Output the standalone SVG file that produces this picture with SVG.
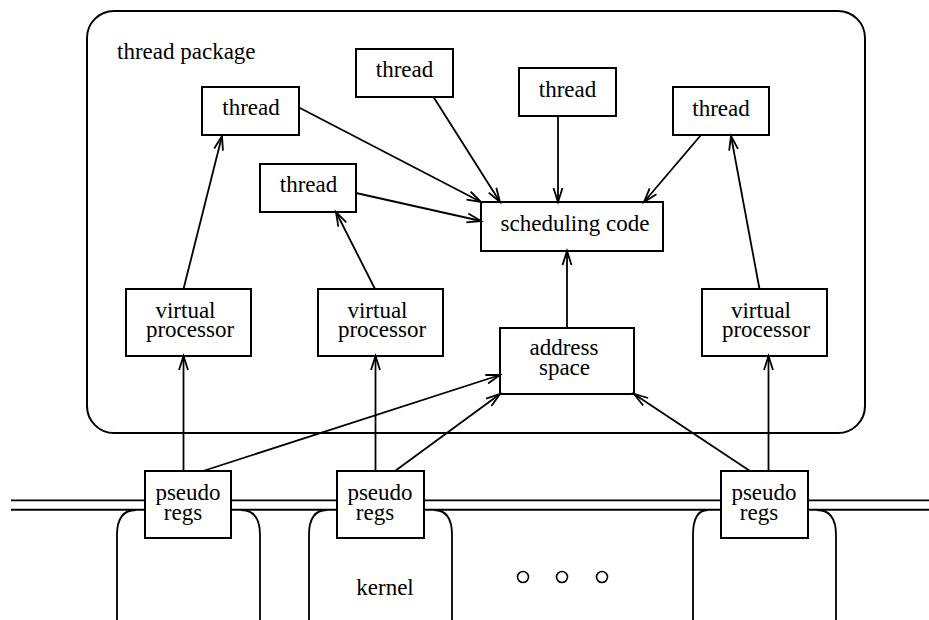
<svg xmlns="http://www.w3.org/2000/svg" width="929" height="620" viewBox="0 0 929 620">
<style>
.box{fill:#fff;stroke:#000;stroke-width:2}
.frame{fill:none;stroke:#000;stroke-width:2}
.ln{fill:none;stroke:#000;stroke-width:1.8}
.conn{fill:none;stroke:#000;stroke-width:1.8;marker-end:url(#arr)}
text{font-family:"Liberation Serif","Times New Roman",serif;font-size:23px;fill:#000;text-anchor:middle}
</style>
<defs>
<marker id="arr" viewBox="-16 -7 18 14" refX="0" refY="0" markerWidth="18" markerHeight="14" markerUnits="userSpaceOnUse" orient="auto" overflow="visible">
<path d="M-14,-4.5 L0,0 L-14,4.5" fill="none" stroke="#000" stroke-width="1.8"/>
</marker>
</defs>
<rect width="929" height="620" fill="#fff"/>

<g id="thread-package">
<rect class="frame" x="87" y="11" width="778" height="422" rx="27" ry="27"/>
<text x="117" y="59" style="text-anchor:start">thread package</text>
</g>

<g id="kernel">
<path class="ln" d="M136,510 Q117,510 117,535 V620"/>
<path class="ln" d="M241,510 Q260,510 260,535 V620"/>
<path class="ln" d="M327,510 Q309,510 309,535 V620"/>
<path class="ln" d="M434,510 Q452,510 452,535 V620"/>
<path class="ln" d="M708,510 Q693,510 693,535 V620"/>
<path class="ln" d="M817,510 Q836,510 836,535 V620"/>
<line x1="11" y1="500.3" x2="929" y2="500.3" stroke="#000" stroke-width="1.7"/>
<line x1="11" y1="509.7" x2="929" y2="509.7" stroke="#000" stroke-width="2"/>
<text x="385" y="595">kernel</text>
<circle cx="523" cy="577" r="5.5" fill="none" stroke="#000" stroke-width="1.6"/>
<circle cx="562" cy="577" r="5.5" fill="none" stroke="#000" stroke-width="1.6"/>
<circle cx="602" cy="577" r="5.5" fill="none" stroke="#000" stroke-width="1.6"/>
</g>

<g id="thread1"><rect class="box" x="202" y="87" width="97" height="48"/><text x="251" y="115">thread</text></g>
<g id="thread2"><rect class="box" x="356" y="49" width="97" height="48"/><text x="404.5" y="77">thread</text></g>
<g id="thread3"><rect class="box" x="260" y="164" width="96" height="48"/><text x="308.5" y="192">thread</text></g>
<g id="thread4"><rect class="box" x="519" y="68" width="97" height="48"/><text x="567.5" y="96.5">thread</text></g>
<g id="thread5"><rect class="box" x="673" y="87" width="96" height="48"/><text x="721" y="115.5">thread</text></g>
<g id="scheduling-code"><rect class="box" x="481" y="202" width="182" height="49"/><text x="575" y="231">scheduling code</text></g>

<g id="vp1"><rect class="box" x="126" y="289" width="125" height="67"/><text x="185.5" y="318">virtual</text><text x="190" y="337">processor</text></g>
<g id="vp2"><rect class="box" x="318" y="289" width="125" height="67"/><text x="377.5" y="318">virtual</text><text x="382" y="337">processor</text></g>
<g id="vp3"><rect class="box" x="702" y="289" width="125" height="67"/><text x="761" y="318">virtual</text><text x="766" y="337">processor</text></g>
<g id="address-space"><rect class="box" x="500" y="328" width="134" height="66"/><text x="564" y="355">address</text><text x="564.5" y="375">space</text></g>

<g id="pr1"><rect class="box" x="145" y="471" width="86" height="67"/><text x="188" y="500">pseudo</text><text x="183" y="519.5">regs</text></g>
<g id="pr2"><rect class="box" x="337" y="471" width="87" height="67"/><text x="380" y="500">pseudo</text><text x="375" y="519.5">regs</text></g>
<g id="pr3"><rect class="box" x="721" y="471" width="87" height="67"/><text x="764" y="500">pseudo</text><text x="759" y="519.5">regs</text></g>

<g id="connectors">
<line class="conn" x1="299" y1="107.5" x2="481" y2="202"/>
<line class="conn" x1="433.5" y1="97" x2="500" y2="202"/>
<line class="conn" x1="356" y1="193" x2="481" y2="221"/>
<line class="conn" x1="558" y1="116" x2="558" y2="202"/>
<line class="conn" x1="701" y1="135" x2="644" y2="202"/>
<line class="conn" x1="183.5" y1="289" x2="222" y2="136"/>
<line class="conn" x1="375" y1="289" x2="336" y2="212"/>
<line class="conn" x1="759.5" y1="289" x2="731" y2="136"/>
<line class="conn" x1="567" y1="328" x2="567" y2="251"/>
<line class="conn" x1="183.5" y1="471" x2="183.5" y2="356"/>
<line class="conn" x1="203" y1="471" x2="500" y2="375"/>
<line class="conn" x1="375.5" y1="471" x2="375.5" y2="356"/>
<line class="conn" x1="395" y1="471" x2="500" y2="394"/>
<line class="conn" x1="750" y1="471" x2="634" y2="394"/>
<line class="conn" x1="768.5" y1="471" x2="768.5" y2="356"/>
</g>
</svg>
